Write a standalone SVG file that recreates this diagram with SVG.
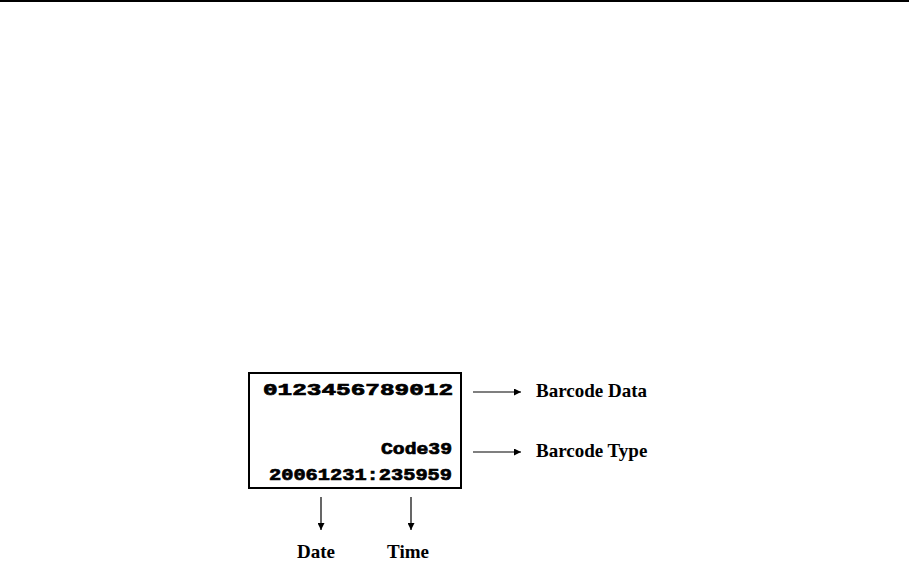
<svg xmlns="http://www.w3.org/2000/svg" width="909" height="563" viewBox="0 0 909 563">
<style>
.mono{font-family:"Liberation Mono","Courier New",monospace;font-weight:bold;font-size:17px;fill:#000;stroke:#000;stroke-width:0.7}
.lbl{font-family:"Liberation Serif","Times New Roman",serif;font-weight:bold;font-size:19px;fill:#000}
.ln{stroke:#000;stroke-width:1.2;fill:none}
</style>
<defs>
<marker id="ah" viewBox="0 0 10 10" refX="10" refY="5" markerWidth="7" markerHeight="7" markerUnits="userSpaceOnUse" orient="auto">
<path d="M0,0 L10,5 L0,10 z" fill="#000"/>
</marker>
</defs>
<rect x="0" y="0" width="909" height="563" fill="#fff"/>
<line x1="0" y1="1" x2="909" y2="1" stroke="#000" stroke-width="2"/>
<g id="display">
<rect x="249" y="373" width="212" height="115" fill="#fff" stroke="#000" stroke-width="2"/>
<text class="mono" x="453" y="395" text-anchor="end" textLength="190" lengthAdjust="spacingAndGlyphs">0123456789012</text>
<text class="mono" x="452" y="454" text-anchor="end" textLength="71" lengthAdjust="spacingAndGlyphs">Code39</text>
<text class="mono" x="452" y="480" text-anchor="end" textLength="183" lengthAdjust="spacingAndGlyphs">20061231:235959</text>
</g>
<g id="connectors">
<line class="ln" x1="473" y1="392" x2="521" y2="392" marker-end="url(#ah)"/>
<line class="ln" x1="473" y1="452" x2="521" y2="452" marker-end="url(#ah)"/>
<line class="ln" x1="321" y1="497" x2="321" y2="530" marker-end="url(#ah)"/>
<line class="ln" x1="411" y1="497" x2="411" y2="530" marker-end="url(#ah)"/>
</g>
<g id="label-data"><text class="lbl" x="536" y="397">Barcode Data</text></g>
<g id="label-type"><text class="lbl" x="536" y="457">Barcode Type</text></g>
<g id="label-date"><text class="lbl" x="316" y="558" text-anchor="middle">Date</text></g>
<g id="label-time"><text class="lbl" x="408" y="558" text-anchor="middle">Time</text></g>
</svg>
